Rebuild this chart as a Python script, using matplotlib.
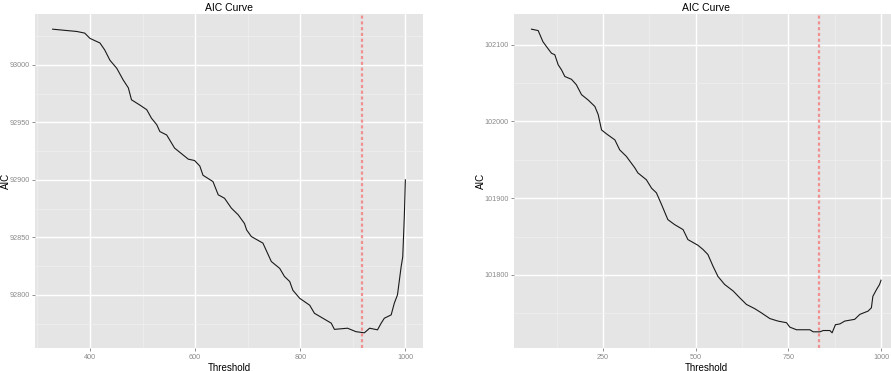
import matplotlib
matplotlib.use("Agg")
import matplotlib.pyplot as plt
from matplotlib.ticker import FixedLocator

plt.rcParams['font.family'] = ['Liberation Sans', 'DejaVu Sans']

# Left panel data
left_x = [329, 375, 390, 400, 419, 428, 438, 451, 463, 473, 479, 495, 508, 517, 527, 533,
          546, 561, 577, 587, 599, 609, 615, 634, 644, 656, 669, 682, 694, 698, 707, 729,
          735, 745, 761, 770, 780, 786, 799, 818, 827, 843, 859, 865, 890, 906, 922, 932,
          947, 954, 960, 973, 979, 985, 992, 995, 998, 1000]
left_y = [93031, 93029, 93027.6, 93023, 93019, 93013, 93004, 92997, 92987, 92980, 92969.6,
          92965, 92961, 92953.6, 92948, 92942, 92939, 92927.6, 92921.7, 92918, 92916.8,
          92912, 92904, 92898.5, 92887, 92884, 92875.4, 92869.6, 92862, 92856.5, 92850.7,
          92845, 92839, 92829, 92823, 92816, 92811.6, 92804, 92797, 92791, 92784, 92779.7,
          92775.4, 92770, 92771, 92768, 92767, 92771, 92769.6, 92775.4, 92779.7, 92782.6,
          92792.8, 92800, 92824.6, 92833, 92868, 92900]
left_vline = 918
left_xticks = [400, 600, 800, 1000]
left_yticks = [92800, 92850, 92900, 92950, 93000]

# Right panel data
right_x = [57, 75, 88, 97, 111, 120, 129, 138, 147, 165, 178, 192, 210, 228, 237, 246, 259,
           282, 295, 313, 336, 344, 367, 381, 394, 408, 421, 425, 443, 466, 479, 506, 520,
           533, 547, 560, 578, 601, 619, 637, 659, 677, 700, 722, 745, 754, 772, 808, 817,
           835, 844, 862, 868, 877, 889, 902, 929, 943, 965, 974, 978, 988, 996, 1000]
right_y = [102120.4, 102118.6, 102104, 102098, 102089, 102087, 102074, 102067.4, 102058.7,
           102055, 102048, 102035, 102028, 102019.6, 102009, 101989, 101984, 101976, 101963,
           101954.5, 101939.4, 101933, 101924, 101913, 101907, 101891.6, 101876.5, 101872,
           101865.6, 101859, 101846, 101838.6, 101833, 101826.5, 101811, 101798, 101787.5,
           101779, 101770, 101761.4, 101756, 101750.5, 101743, 101739.7, 101737.6, 101731.8,
           101728.4, 101728.4, 101725.7, 101725.7, 101727.4, 101727.4, 101724.4, 101735,
           101736, 101739.7, 101742, 101748.5, 101752.7, 101757, 101772, 101781, 101787.4,
           101793]
right_vline = 834
right_xticks = [250, 500, 750, 1000]
right_yticks = [101800, 101900, 102000, 102100]

W, H = 891, 371
fig = plt.figure(figsize=(W / 100, H / 100), dpi=100)


def px_axes(l, t, r, b):
    return fig.add_axes([l / W, (H - b) / H, (r - l) / W, (b - t) / H])


def style(ax, xs, ys, vline, xticks, yticks, ylab_px, left_px, width_px):
    ax.set_facecolor('#E5E5E5')
    for s in ax.spines.values():
        s.set_visible(False)
    xr = max(xs) - min(xs)
    yr = max(ys) - min(ys)
    ax.set_xlim(min(xs) - 0.05 * xr, max(xs) + 0.05 * xr)
    ax.set_ylim(min(ys) - 0.05 * yr, max(ys) + 0.05 * yr)
    ax.xaxis.set_major_locator(FixedLocator(xticks))
    ax.yaxis.set_major_locator(FixedLocator(yticks))
    dx = xticks[1] - xticks[0]
    dy = yticks[1] - yticks[0]
    xminor = [xticks[0] - dx / 2] + [t + dx / 2 for t in xticks]
    yminor = [yticks[0] - dy / 2] + [t + dy / 2 for t in yticks]
    ax.xaxis.set_minor_locator(FixedLocator(xminor))
    ax.yaxis.set_minor_locator(FixedLocator(yminor))
    ax.grid(which='major', color='white', linewidth=1.0)
    ax.grid(which='minor', color='#F0F0F0', linewidth=0.5)
    ax.set_axisbelow(True)
    ax.tick_params(which='major', length=2.5, width=0.6, color='#7F7F7F',
                   labelsize=5.2, labelcolor='#8A8A8A', pad=1.5)
    ax.tick_params(which='minor', length=0)
    ax.plot(xs, ys, color='#1A1A1A', linewidth=0.8)
    ax.axvline(vline, color='#F09090', linestyle=(0, (1.4, 1.2)), linewidth=1.6)
    ax.set_title('AIC Curve', fontsize=7.5, pad=2.5)
    ax.set_xlabel('Threshold', fontsize=7, labelpad=1.5)
    ax.set_ylabel('AIC', fontsize=7)
    ax.yaxis.set_label_coords((ylab_px - left_px) / width_px, 0.5)


ax1 = px_axes(35, 14, 423, 348)
style(ax1, left_x, left_y, left_vline, left_xticks, left_yticks, 11, 35, 388)

ax2 = px_axes(514, 14, 898.5, 348)
style(ax2, right_x, right_y, right_vline, right_xticks, right_yticks, 486, 514, 384.5)

fig.savefig('out.png', dpi=100)
